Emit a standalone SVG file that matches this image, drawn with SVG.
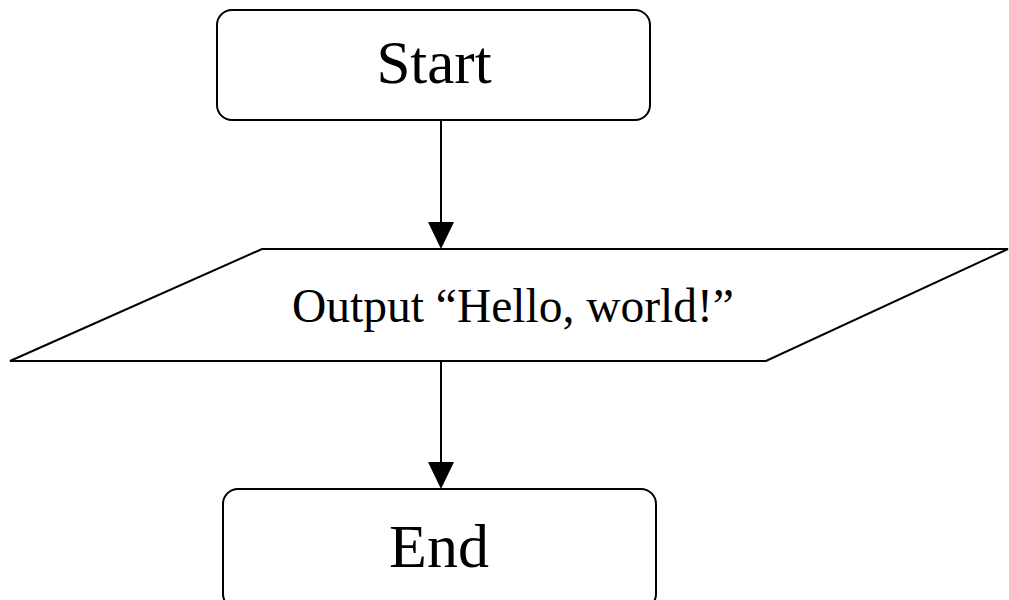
<svg xmlns="http://www.w3.org/2000/svg" width="1009" height="600" viewBox="0 0 1009 600">
<style>
.shape{fill:#fff;stroke:#000;stroke-width:2}
.lbl{font-family:"Liberation Serif","Times New Roman",serif;fill:#000;text-anchor:middle}
.conn{stroke:#000;stroke-width:2;fill:none}
.head{fill:#000}
</style>
<rect width="1009" height="600" fill="#fff"/>
<g id="start">
<rect class="shape" x="217" y="10" width="433" height="110" rx="15" ry="15"/>
<text class="lbl" x="434" y="83" font-size="61">Start</text>
</g>
<g id="output">
<polygon class="shape" points="262,249 1008,249 766,361 10,361"/>
<text class="lbl" x="513" y="322" font-size="47.5">Output “Hello, world!”</text>
</g>
<g id="end">
<rect class="shape" x="223" y="489" width="433" height="120" rx="15" ry="15"/>
<text class="lbl" x="439" y="567" font-size="62">End</text>
</g>
<g id="connectors">
<line class="conn" x1="441" y1="120" x2="441" y2="222"/>
<path class="head" d="M428,222 L454,222 L441,249 Z"/>
<line class="conn" x1="441" y1="361" x2="441" y2="462"/>
<path class="head" d="M428,462 L454,462 L441,489 Z"/>
</g>
</svg>
